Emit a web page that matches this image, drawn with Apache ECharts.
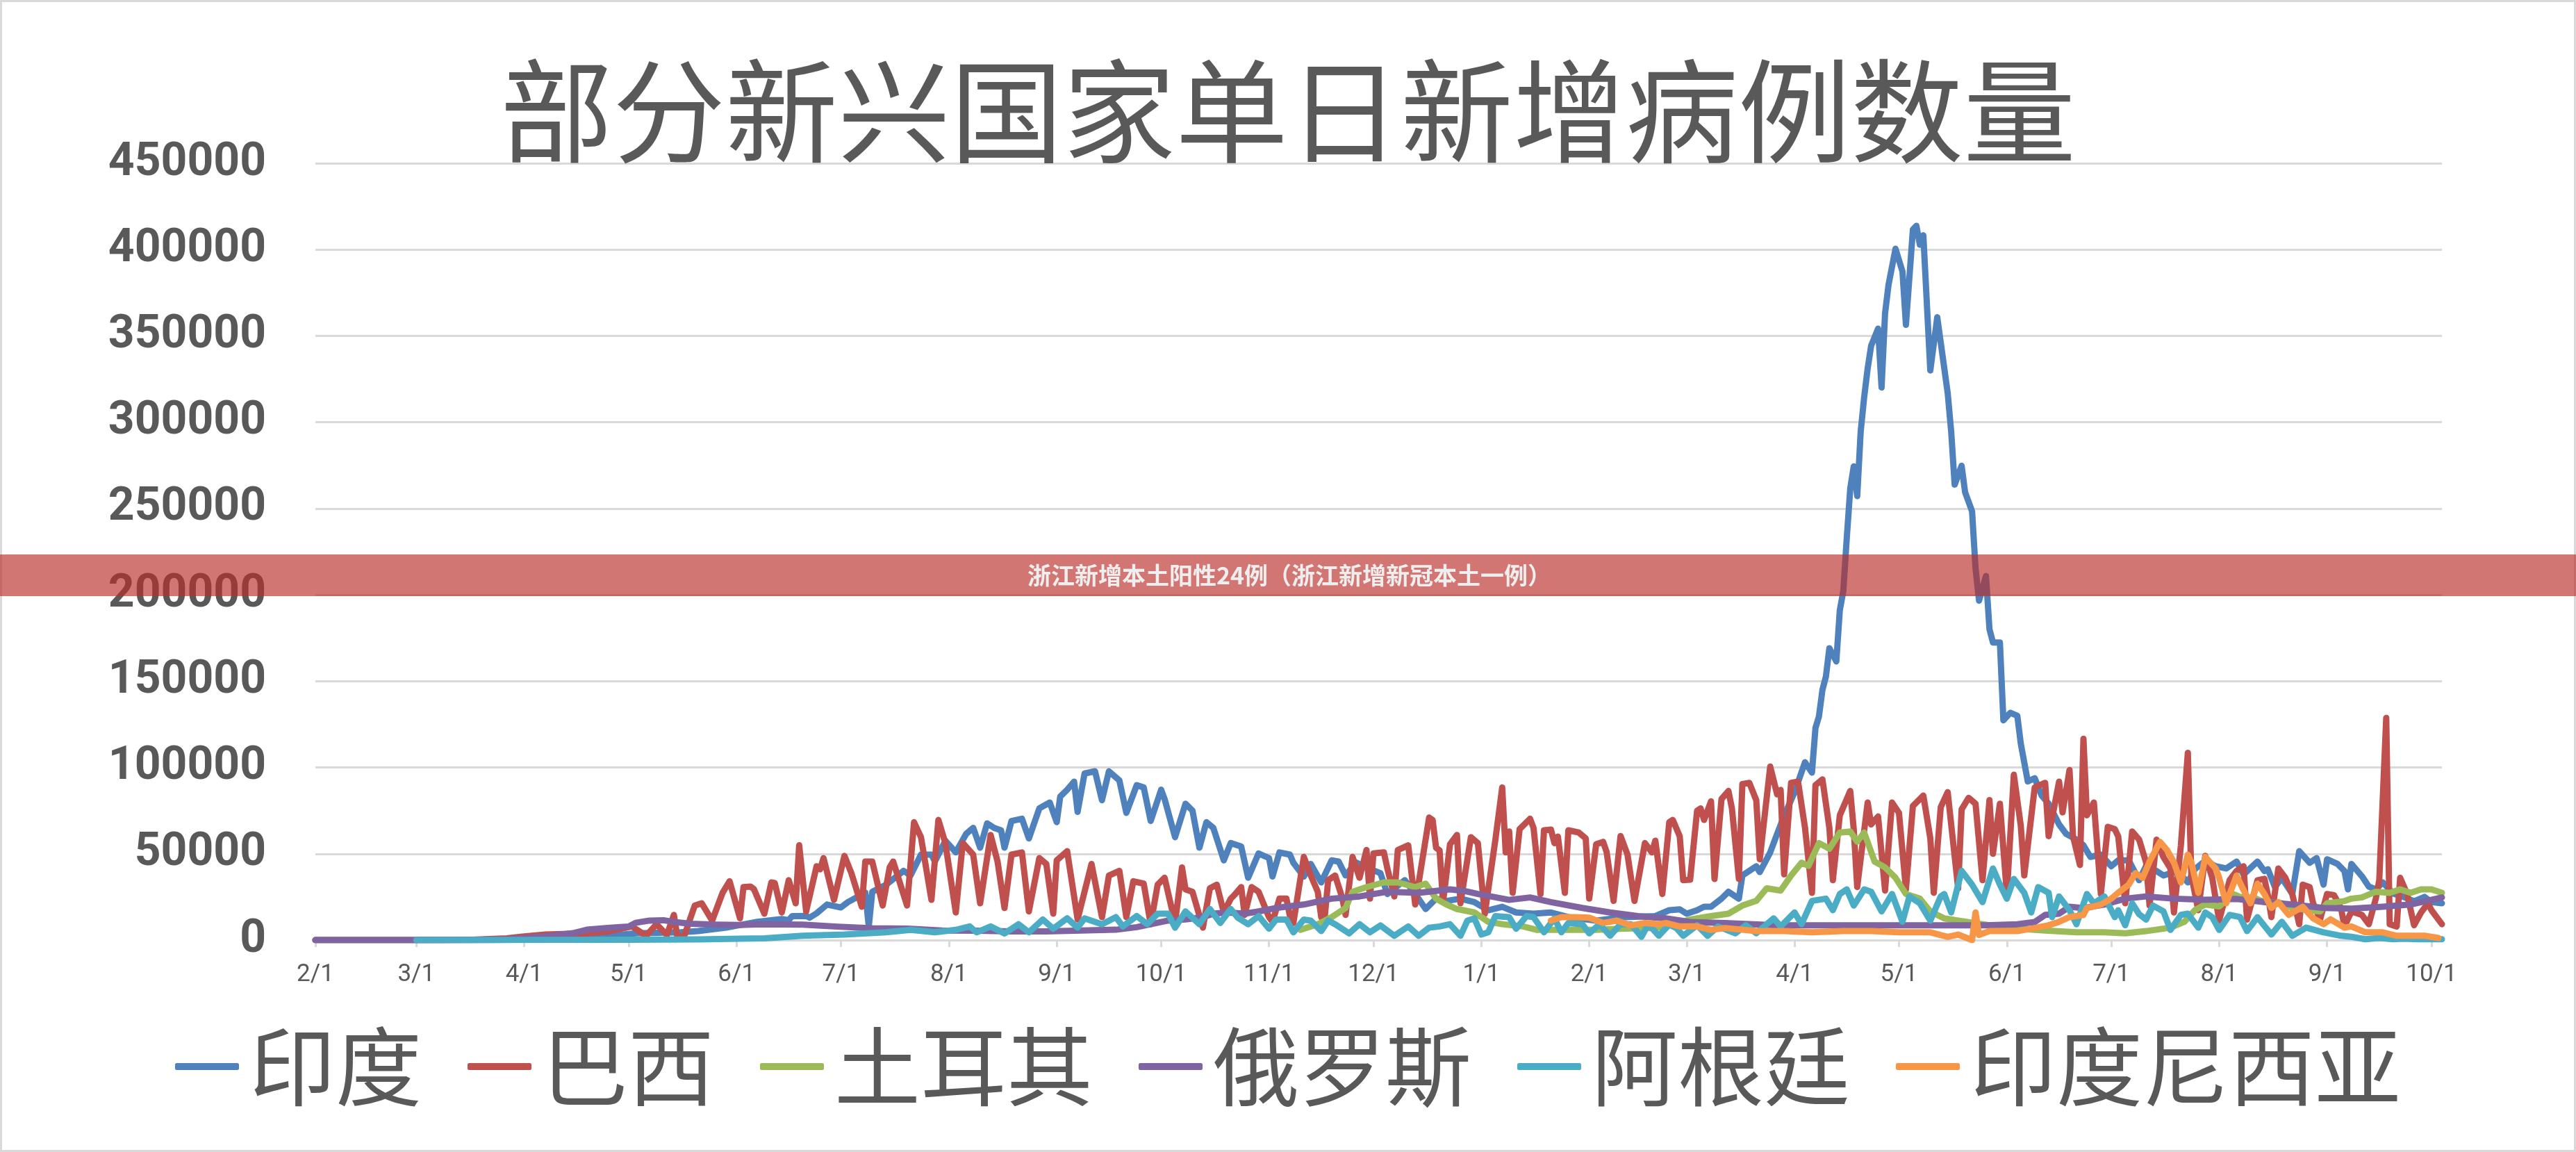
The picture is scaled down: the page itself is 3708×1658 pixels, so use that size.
<!DOCTYPE html>
<html>
<head>
<meta charset="utf-8">
<title>部分新兴国家单日新增病例数量</title>
<script src="https://cdn.jsdelivr.net/npm/echarts@6/dist/echarts.min.js"></script>
<style>
  html, body { margin: 0; padding: 0; background: #fff; }
  #chart { width: 3708px; height: 1658px; }
</style>
</head>
<body>
<div id="chart"></div>
<script>
// x positions are day numbers counted from 2020-02-01 (day 0) to 2021-10-04 (day 611)
const firstDay = [2020, 1, 1];
const dayCount = 612;

const seriesNames = ["印度", "巴西", "土耳其", "俄罗斯", "阿根廷", "印度尼西亚"];
const seriesColors = ["#4F81BD", "#C0504D", "#9BBB59", "#8064A2", "#4BACC6", "#F79646"];

const yTicks = [0, 50000, 100000, 150000, 200000, 250000, 300000, 350000, 400000, 450000];

// [day, new cases]
const india = [
  [0,0],[50,0],[60,300],[70,800],[80,1500],[92,3900],[105,4500],[110,5200],[118,7200],[127,10600],
  [130,11300],[134,12200],[136,11500],[137,13900],[141,14000],[142,13000],[144,15500],[147,20600],
  [151,18900],[153,22000],[157,26400],[158,27500],[159,7900],[160,28000],[164,32100],[169,40100],
  [171,37400],[174,49500],[177,49500],[178,45500],[181,57600],[184,50800],[187,61600],[189,65000],
  [191,53500],[193,67600],[195,65000],[197,63600],[198,53500],[200,69000],[203,70300],[205,58900],
  [208,76300],[211,79700],[213,68300],[214,83100],[216,87100],[218,91800],[219,74300],[221,96500],
  [224,97800],[226,81000],[228,97800],[231,92500],[233,73700],[236,89800],[238,88400],[240,69000],
  [243,87100],[244,81700],[247,59600],[250,79000],[252,75000],[254,53500],[256,68300],[258,65000],
  [261,46200],[263,56200],[266,54200],[268,36100],[271,50200],[274,47500],[275,36800],[277,50800],
  [280,49500],[281,44800],[284,36800],[286,44100],[289,33400],[292,46200],[294,45500],[296,37400],
  [299,45000],[302,42000],[306,38800],[308,26700],[313,34700],[316,26700],[319,18000],[322,24000],
  [325,22700],[329,24000],[333,22000],[337,17300],[341,19300],[345,16000],[350,15300],[355,16000],
  [360,13300],[368,11300],[376,13300],[385,13900],[389,17300],[392,17800],[394,15300],[397,17300],
  [399,19300],[401,19300],[404,24000],[406,28000],[409,24000],[410,37400],[414,42800],[415,39400],
  [418,50800],[420,61600],[422,72000],[425,85700],[428,103000],[430,97000],[431,122800],[432,129500],
  [433,144900],[434,152600],[435,169100],[437,161400],[438,191100],[439,202100],[440,233000],
  [441,261600],[442,274400],[443,257200],[444,294600],[445,314500],[446,331100],[447,344300],
  [449,354200],[450,320100],[451,363000],[452,379600],[454,400500],[456,387300],[457,356400],
  [459,411600],[460,413800],[461,402800],[462,408300],[464,330000],[466,360800],[469,316800],
  [470,294600],[471,263800],[473,274800],[474,259400],[476,248400],[477,215300],[478,196600],
  [480,210900],[481,180100],[482,172400],[484,172400],[485,127300],[487,131700],[489,130000],
  [490,113800],[492,91900],[494,93800],[496,83700],[498,79000],[501,67000],[503,61600],[506,58200],
  [508,54900],[510,48200],[513,49500],[516,42800],[518,46200],[521,46200],[524,34700],[526,43000],
  [529,40000],[531,37400],[535,40000],[538,33400],[540,41000],[543,46000],[546,42800],[549,41500],
  [552,45500],[554,38000],[558,45500],[560,40000],[561,41000],[563,30700],[565,36000],[568,26700],
  [570,51500],[573,44800],[575,47500],[577,32100],[578,46800],[581,44100],[583,40000],[584,29400],
  [585,44100],[588,37000],[590,31000],[592,29400],[594,33400],[597,27000],[600,25000],[603,22500],
  [606,25000],[608,22000],[611,21300]
];

const brazil = [
  [0,0],[28,0],[45,200],[55,1000],[59,1900],[66,3200],[78,3900],[84,5000],[91,7900],[95,2500],
  [98,9200],[101,3000],[103,14600],[104,1900],[106,2500],[109,20000],[111,21300],[114,11300],
  [117,27400],[119,34100],[122,12600],[123,30700],[125,31000],[126,29500],[129,15300],[131,33400],
  [132,33000],[134,16000],[136,34700],[138,21300],[139,54900],[141,16600],[144,42800],[145,41000],
  [146,47500],[149,23300],[152,48800],[154,38800],[157,19300],[158,45500],[160,45500],[163,20000],
  [165,42100],[166,45500],[170,20000],[172,68300],[174,59600],[177,23300],[179,69600],[181,56200],
  [184,16000],[186,56200],[189,49500],[191,21300],[194,60900],[196,45500],[198,18600],[200,49500],
  [203,50800],[205,16600],[208,47500],[210,44100],[212,15300],[213,46200],[216,51500],[219,12000],
  [223,44100],[226,13300],[228,37400],[231,40100],[233,13300],[235,34100],[238,32700],[240,9200],
  [242,32100],[244,36100],[247,9900],[249,42100],[250,29400],[252,28000],[255,7200],[257,30000],
  [259,32100],[261,16000],[263,24000],[264,26000],[266,30700],[267,14600],[269,30700],[271,28000],
  [274,13300],[275,10600],[277,24000],[279,24000],[280,13900],[281,9900],[284,48200],[286,37400],
  [288,28000],[289,13300],[290,13300],[291,34700],[293,37400],[295,24700],[296,14600],[298,48200],
  [300,36100],[302,52200],[303,24000],[304,50200],[307,50800],[308,41500],[310,25300],[311,52200],
  [314,54900],[316,20600],[320,71000],[321,69600],[322,53500],[323,52000],[324,22000],[326,55500],
  [328,60900],[329,21300],[332,59600],[334,56200],[336,15300],[339,57600],[341,88400],[342,50800],
  [343,62900],[344,27400],[346,64300],[349,70300],[350,65000],[352,26700],[353,63600],[355,64000],
  [356,56200],[357,60000],[359,27400],[360,63600],[363,62300],[365,58900],[366,24000],[368,55500],
  [370,56900],[371,51000],[373,22700],[375,60300],[377,49500],[379,22700],[382,56200],[384,50800],
  [385,57600],[387,26700],[389,68300],[390,69600],[392,60200],[393,34700],[395,35000],[397,75000],
  [398,76300],[399,69600],[401,80400],[402,35400],[404,81700],[406,86400],[407,76300],[409,35400],
  [410,90400],[412,91100],[414,81000],[415,46800],[418,100500],[420,84400],[421,87000],[422,38100],
  [424,91100],[426,91800],[428,65000],[430,27400],[431,89800],[433,93100],[435,65000],[436,34700],
  [438,72300],[441,86400],[442,64300],[443,30700],[446,79700],[447,67000],[449,71600],[451,28700],
  [453,79700],[455,73700],[457,29400],[459,77700],[462,83700],[464,59000],[465,27400],[467,77000],
  [469,85700],[470,67000],[472,30000],[473,75700],[475,82400],[477,79000],[479,34700],[481,81100],
  [482,50000],[484,79000],[486,26700],[488,95800],[490,66300],[491,37400],[494,88400],[497,91100],
  [498,60200],[501,91800],[502,74000],[504,98500],[505,60200],[507,43500],[508,116600],[509,72300],
  [511,79700],[513,26700],[515,65600],[517,64300],[518,60000],[520,21300],[522,62900],[524,58200],
  [526,45000],[527,20000],[529,58200],[531,48000],[533,41500],[534,16000],[536,54900],[538,108500],
  [539,37400],[541,17300],[543,48800],[545,36100],[547,11300],[550,34700],[552,40100],[554,42800],
  [555,11900],[558,34700],[560,35500],[561,26000],[562,13300],[564,41500],[566,36100],[568,26700],
  [570,9200],[571,32100],[573,30700],[574,21300],[576,11900],[578,26700],[580,26000],[582,18600],
  [583,7900],[585,16600],[588,14600],[590,9200],[592,24000],[593,34700],[595,128700],[596,9200],
  [598,7900],[599,36100],[601,26700],[603,8600],[605,16000],[607,21300],[608,17300],[611,9200]
];

const turkey = [
  [283,5900],[288,9200],[292,13300],[296,18600],[298,28000],[302,30700],[307,33400],[311,33400],
  [316,30700],[319,32700],[322,24000],[325,20600],[328,18000],[333,16000],[337,10600],[341,9200],
  [347,7900],[351,5900],[360,5900],[368,5900],[376,6600],[385,7000],[390,9000],[395,11900],
  [401,13900],[406,15300],[410,20000],[414,22700],[417,30000],[421,28700],[424,37400],[427,44800],
  [429,43000],[432,56200],[435,52900],[438,62300],[441,62900],[443,57000],[445,62300],[448,45500],
  [451,42100],[454,36100],[457,26700],[461,24000],[464,16600],[468,12600],[472,11300],[481,8600],
  [489,6600],[497,5500],[506,4500],[514,4500],[520,3900],[526,5200],[533,7200],[537,10600],
  [540,17300],[543,20600],[547,19500],[551,26700],[553,25000],[557,24500],[560,22000],[565,21300],
  [568,18600],[573,17300],[576,16600],[578,21300],[583,22600],[585,24000],[588,24700],[592,28000],
  [596,27400],[599,29400],[602,27400],[605,29400],[608,29400],[611,27400]
];

const russia = [
  [0,0],[29,0],[45,100],[55,500],[62,1500],[68,2500],[74,4000],[78,6000],[84,7000],[90,7900],
  [92,10000],[96,11300],[100,11500],[103,10500],[108,9500],[115,9000],[122,8800],[128,9200],
  [140,9000],[150,7800],[160,6800],[170,6600],[180,5500],[190,5400],[200,5000],[210,5000],
  [220,5500],[230,6000],[236,7500],[240,9200],[245,11300],[250,12000],[255,13300],[258,15300],
  [262,16000],[267,15300],[271,16600],[276,18600],[284,20600],[292,24000],[300,25300],[308,28000],
  [317,27400],[326,29400],[330,28500],[334,26700],[343,23300],[349,24700],[355,22000],[364,18600],
  [372,16000],[380,13900],[388,12600],[395,10500],[405,9900],[420,8600],[440,8600],[460,8600],
  [480,8600],[489,9200],[494,10500],[497,14600],[501,15300],[504,19300],[508,18500],[514,20600],
  [520,24000],[526,25300],[534,24000],[543,23300],[552,23800],[560,22000],[568,20600],[577,18600],
  [585,18200],[594,19300],[602,20600],[611,24700]
];

const argentina = [
  [29,0],[60,100],[90,200],[110,400],[125,900],[129,1000],[140,2500],[152,3200],[164,4500],
  [171,5900],[178,4500],[184,5900],[188,7900],[190,4500],[194,7900],[198,3800],[202,9200],
  [205,4500],[209,11900],[212,6600],[216,12600],[219,7200],[221,12600],[226,9200],[230,13300],
  [232,7900],[236,13900],[239,9200],[242,15300],[245,15300],[247,7200],[250,16600],[254,9200],
  [257,18000],[260,9900],[263,18000],[265,13000],[268,9200],[271,13900],[274,6600],[276,11900],
  [279,11900],[281,4500],[284,11900],[286,11300],[289,5200],[291,11300],[293,9200],[297,3900],
  [300,9200],[303,4500],[306,8500],[310,2500],[314,7900],[317,2500],[320,7200],[323,7900],
  [326,9200],[329,2500],[331,11300],[333,12600],[335,3200],[337,4500],[339,13900],[343,13300],
  [345,6600],[348,13900],[350,13300],[353,4500],[356,12600],[358,4500],[360,9900],[364,9200],
  [366,3900],[369,9200],[372,2500],[375,9200],[378,9200],[381,1900],[383,9200],[386,2500],
  [389,9000],[391,7000],[393,2500],[397,8600],[400,2500],[403,7900],[408,3900],[411,8600],
  [414,4000],[417,9200],[419,12600],[421,7900],[425,16000],[427,9200],[430,22700],[434,24000],
  [436,17300],[438,26700],[440,29400],[442,20000],[445,29400],[447,28000],[450,16600],[453,26700],
  [456,10600],[458,25300],[461,21300],[464,11300],[467,25300],[468,26700],[470,16000],[473,40100],
  [476,32100],[479,22000],[482,41500],[484,32100],[486,24000],[488,35400],[491,27400],[493,16000],
  [495,30700],[498,27400],[499,13300],[501,25300],[504,17300],[506,9200],[509,26700],[511,21300],
  [514,25300],[517,13300],[518,17300],[520,8600],[522,21300],[524,15000],[526,11900],[528,20000],
  [531,16600],[533,5900],[536,14600],[538,15300],[541,7200],[543,16000],[545,13300],[547,5900],
  [550,14600],[553,13300],[555,5200],[558,13300],[562,3200],[565,10600],[568,2500],[572,7200],
  [577,4500],[582,2500],[585,1900],[589,500],[593,1200],[597,500],[600,800],[604,500],[611,500]
];

const indonesia = [
  [355,11300],[358,13300],[362,13300],[366,13000],[370,9900],[374,11300],[378,8500],[382,9900],
  [386,9200],[388,9900],[392,7900],[397,7900],[401,5900],[405,7000],[414,5200],[422,5200],
  [430,4500],[439,5200],[447,5200],[455,4500],[464,4500],[469,1900],[472,3200],[476,0],[477,16000],
  [478,3000],[481,5200],[489,5200],[493,6600],[498,8600],[501,10600],[504,13300],[508,14600],
  [509,18600],[513,20600],[516,24000],[518,27400],[521,32100],[523,38800],[525,36000],[527,45500],
  [530,56900],[532,52200],[534,45000],[536,33400],[538,49500],[539,45000],[541,27400],[543,48200],
  [546,41500],[547,36100],[549,21300],[552,37400],[554,29000],[556,21300],[558,32700],[560,26700],
  [562,18600],[564,22000],[567,14600],[571,19300],[574,12600],[577,9200],[579,12000],[583,7200],
  [585,7900],[589,4500],[594,4500],[598,2500],[602,2500],[606,2500],[610,1200]
];

const seriesData = [india, brazil, turkey, russia, argentina, indonesia];

const days = [];
for (let i = 0; i < dayCount; i++) {
  const d = new Date(firstDay[0], firstDay[1], firstDay[2] + i);
  const mm = String(d.getMonth() + 1).padStart(2, "0");
  const dd = String(d.getDate()).padStart(2, "0");
  days.push(`${d.getFullYear()}-${mm}-${dd}`);
}

const isMonthStart = (idx, value) => value.endsWith("-01");
const shortLabel = (value) => {
  const [, m, d] = value.split("-");
  return `${Number(m)}/${Number(d)}`;
};

const chart = echarts.init(document.getElementById("chart"));

chart.setOption({
  animation: false,
  backgroundColor: "#ffffff",
  color: seriesColors,
  title: {
    text: "部分新兴国家单日新增病例数量",
    left: "center",
    top: 74,
    textStyle: {
      fontFamily: "Noto Sans CJK SC",
      fontSize: 162,
      fontWeight: "normal",
      color: "#595959",
      lineHeight: 162,
    },
  },
  legend: {
    data: seriesNames,
    left: "center",
    top: 1468,
    icon: "roundRect",
    itemWidth: 92,
    itemHeight: 10,
    itemGap: 66,
    textStyle: {
      fontFamily: "Noto Sans CJK SC",
      fontSize: 124,
      color: "#595959",
      padding: [0, 0, 20, 10],
    },
  },
  grid: { left: 454, right: 193, top: 235, bottom: 305, containLabel: false },
  xAxis: {
    type: "category",
    data: days,
    boundaryGap: false,
    axisLine: { lineStyle: { color: "#D9D9D9", width: 3 } },
    axisTick: {
      interval: isMonthStart,
      length: 10,
      lineStyle: { color: "#D9D9D9", width: 3 },
    },
    axisLabel: {
      interval: isMonthStart,
      formatter: shortLabel,
      margin: 33,
      fontFamily: "Roboto",
      fontSize: 35,
      color: "#595959",
    },
    splitLine: { show: false },
  },
  yAxis: {
    type: "value",
    min: yTicks[0],
    max: yTicks[yTicks.length - 1],
    interval: yTicks[1] - yTicks[0],
    axisLine: { show: false },
    axisTick: { show: false },
    axisLabel: {
      formatter: (v) => String(v),
      margin: 71,
      fontFamily: "Roboto",
      fontWeight: "bold",
      fontSize: 66,
      color: "#595959",
    },
    splitLine: { lineStyle: { color: "#D9D9D9", width: 3 } },
  },
  series: seriesNames.map((name, i) => ({
    name,
    type: "line",
    data: seriesData[i],
    symbol: "none",
    smooth: false,
    lineStyle: { width: 9, color: seriesColors[i], cap: "round", join: "round" },
    emphasis: { disabled: true },
  })),
  graphic: [
    {
      type: "rect",
      z: 100,
      shape: { x: 1.5, y: 1.5, width: 3705, height: 1655 },
      style: { fill: "none", stroke: "#D9D9D9", lineWidth: 3 },
      silent: true,
    },
    {
      type: "rect",
      z: 100,
      shape: { x: 0, y: 798, width: 3708, height: 60 },
      style: { fill: "rgba(185,45,40,0.65)" },
      silent: true,
    },
    {
      type: "text",
      z: 101,
      x: 1856,
      y: 828,
      style: {
        text: "浙江新增本土阳性24例（浙江新增新冠本土一例）",
        fill: "#EEEEEE",
        font: 'bold 34px "Noto Sans CJK SC"',
        align: "center",
        verticalAlign: "middle",
        textAlign: "center",
        textVerticalAlign: "middle",
      },
      silent: true,
    },
  ],
});
</script>
</body>
</html>
